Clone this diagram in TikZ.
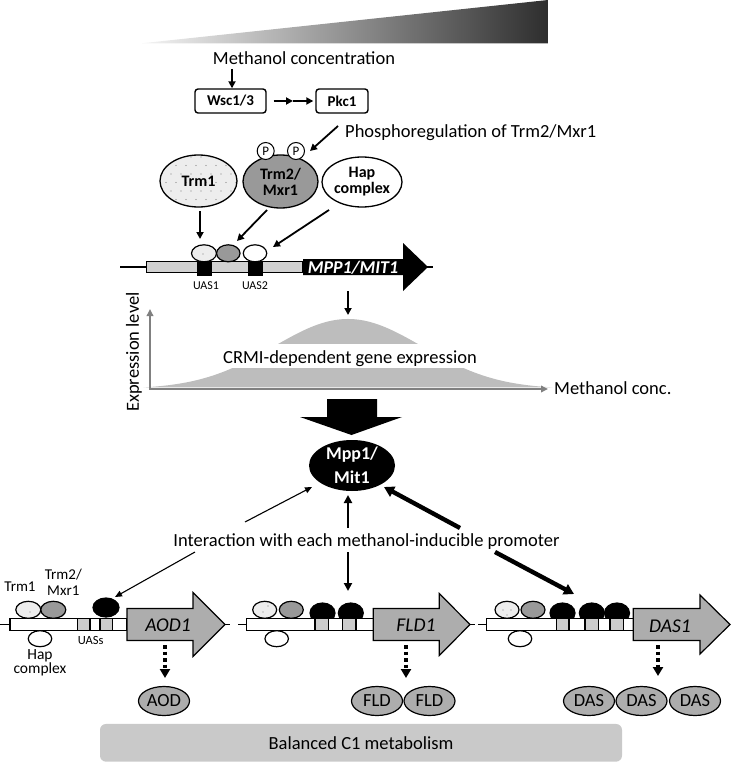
\documentclass[tikz,border=0pt]{standalone}
\usepackage{fontspec}
\setmainfont{Carlito}
\usetikzlibrary{arrows.meta,shapes.geometric}
\definecolor{lightfill}{gray}{0.93}
\definecolor{trmgray}{gray}{0.6}
\definecolor{bellgray}{gray}{0.74}
\definecolor{axisgray}{gray}{0.5}
\definecolor{promgray}{gray}{0.82}
\definecolor{protgray}{gray}{0.68}
\definecolor{basegray}{gray}{0.79}
\definecolor{uasgray}{gray}{0.8}
\tikzset{
  txt/.style={font=\fontsize{18.5}{22}\selectfont, inner sep=0pt},
  blbl/.style={font=\fontsize{16}{16}\selectfont\bfseries, align=center, inner sep=0pt},
  rlbl/.style={font=\fontsize{15}{15.5}\selectfont, align=center, inner sep=0pt},
  tinylbl/.style={font=\fontsize{12}{12}\selectfont, inner sep=0pt},
  ell/.style={ellipse, draw, line width=1.3pt, inner sep=0pt},
  blob/.style={ellipse, draw, line width=1.2pt, inner sep=0pt, minimum width=25pt, minimum height=17pt},
  prot/.style={ellipse, draw, line width=1.2pt, fill=protgray, inner sep=0pt, minimum width=51pt, minimum height=29pt, font=\fontsize{18.5}{18}\selectfont},
  boxlbl/.style={draw, rounded corners=3pt, line width=1.4pt, minimum height=24pt, inner sep=0pt, font=\fontsize{15}{15}\selectfont\bfseries},
  arrA/.style={line width=1.8pt, -{Triangle[length=7pt,width=7pt]}},
  arrThin/.style={line width=1.1pt, -{Triangle[length=7pt,width=6pt]}},
  arrMid/.style={line width=2.6pt, -{Triangle[length=8pt,width=8pt]}},
  arrThick/.style={line width=4.4pt, -{Triangle[length=10pt,width=11pt]}},
  dotarr/.style={line width=3.4pt, dash pattern=on 3.5pt off 3pt, -{Triangle[length=9pt,width=10pt]}},
  dna/.style={line width=1.2pt},
  genearrow/.style={draw, line width=1.2pt, fill=protgray},
  gname/.style={font=\fontsize{19.5}{20}\selectfont\itshape, inner sep=0pt},
  pcirc/.style={circle, draw, line width=1pt, fill=white, minimum size=17pt, inner sep=0pt, font=\fontsize{13}{13}\selectfont}
}
\begin{document}
\begin{tikzpicture}[x=1pt,y=-1pt]
\useasboundingbox (0,0) rectangle (735,762);

% ---- gradient wedge
\shade[left color=black!4, right color=black!82] (141.6,43.3) -- (548,43.3) -- (548,0) -- cycle;

% ---- signalling
\node[txt, anchor=base] (mc) at (304,65) {Methanol concentration};
\node[boxlbl, minimum width=71pt] (wsc) at (230.5,101) {Wsc1/3};
\node[boxlbl, minimum width=52pt] (pkc) at (342,101) {Pkc1};
\coordinate (mcA) at (232,69);
\draw[arrA] (mcA) -- (mcA |- wsc.north);
\coordinate (dm) at (293,101);
\draw[arrA, shorten <=7pt] (wsc.east) -- (dm);
\draw[arrA, shorten >=2pt] (dm) -- (pkc.west);
\coordinate (pa) at (338,126);
\coordinate (pb) at (310,151);
\draw[arrA] (pa) -- (pb);
\node[txt, anchor=base west] (phos) at (345,137.5) {Phosphoregulation of Trm2/Mxr1};

% ---- factors
\begin{scope}
\clip (198.5,181) ellipse [x radius=38.5pt, y radius=26pt];
\fill[lightfill] (150,150) rectangle (250,215);
\foreach \r in {0,...,6} \foreach \c in {0,...,8}
  \fill[black!50] ({161+\c*10+mod(\r,2)*5},{157+\r*8.5}) circle (0.6pt);
\end{scope}
\node[ell, minimum width=77pt, minimum height=52pt] (trm1) at (198.5,181) {};
\node[blbl] at (trm1.center) {Trm1};
\node[ell, fill=trmgray, minimum width=75pt, minimum height=53pt] (trm2) at (280.5,181.5) {};
\node[blbl] at (trm2.center) {Trm2/\\Mxr1};
\node[ell, fill=white, minimum width=80pt, minimum height=50pt] (hap) at (362,182) {};
\node[blbl] at (hap.center) {Hap\\complex};
\node[pcirc] (p1) at (265.7,151) {P};
\node[pcirc] (p2) at (296,151) {P};

\coordinate (t1a) at (200,211); \coordinate (t1b) at (200,239);
\coordinate (t2a) at (267,210); \coordinate (t2b) at (237,241);
\coordinate (ha) at (329,210);  \coordinate (hb) at (273,247);
\draw[arrA] (t1a) -- (t1b);
\draw[arrA] (t2a) -- (t2b);
\draw[arrA] (ha) -- (hb);

% ---- MPP1 promoter
\draw[dna] (120,267) -- (433,267);
\draw[dna, fill=promgray] (146.7,261.7) rectangle (303,272.3);
\fill (197,261.7) rectangle (212,276);
\fill (248,261.7) rectangle (263,276);
\node[blob, fill=lightfill] (s1) at (204,253.3) {};
\fill[black!50] (203,254) circle (0.6pt);
\node[blob, fill=trmgray, minimum width=23.5pt] (s2) at (228.3,253.3) {};
\node[blob, fill=white, minimum width=23.5pt] (s3) at (255,253.3) {};
\node[tinylbl, anchor=base] at (206,289) {UAS1};
\node[tinylbl, anchor=base] at (255,289) {UAS2};
\fill (303,259) -- (403,259) -- (403,243) -- (428,267) -- (403,291) -- (403,275) -- (303,275) -- cycle;
\node[font=\fontsize{18}{18}\selectfont\bfseries\itshape, text=white, inner sep=0pt] (mppgene) at (353,267.5) {MPP1/MIT1};
\coordinate (ga) at (348,291); \coordinate (gb) at (348,315);
\draw[arrA] (ga) -- (gb);

% ---- expression graph
\fill[bellgray] plot[domain=-2.75:2.75, samples=90, smooth] ({348+74.4*\x},{389-70*exp(-0.5*\x*\x)}) -- cycle;
\fill[white] (215,344) rectangle (485,368);
\node[txt, anchor=base] (crmi) at (350,363.5) {CRMI-dependent gene expression};
\coordinate (orig) at (150,389);
\coordinate (ytip) at (150,309);
\coordinate (xtip) at (548,389);
\draw[axisgray, line width=2.2pt, {Triangle[length=7pt,width=6.5pt]}-{Triangle[length=7pt,width=6.5pt]}] (ytip) -- (orig) -- (xtip);
\node[txt, rotate=90] (ylab) at (134,352) {Expression level};
\node[txt, anchor=base west] (xlab) at (554,394.5) {Methanol conc.};

% ---- big arrow
\fill (327,399) -- (377,399) -- (377,417) -- (402,417) -- (351.5,435) -- (300,417) -- (327,417) -- cycle;

% ---- Mpp1
\node[ellipse, fill=black, minimum width=86pt, minimum height=51pt, inner sep=0pt] (mpp) at (352,465.5) {};
\node[font=\fontsize{18}{24}\selectfont\bfseries, text=white, align=center, inner sep=0pt] at (mpp.center) {Mpp1/\\Mit1};

\node[txt, anchor=base] (inter) at (366.5,546) {Interaction with each methanol-inducible promoter};
\coordinate (la) at (245,522); \coordinate (lb) at (312,487);
\coordinate (lc) at (195,552); \coordinate (ld) at (115,597);
\draw[arrThin] (la) -- (lb);
\draw[arrThin] (lc) -- (ld);
\coordinate (ma) at (348,528); \coordinate (mb) at (348,495);
\coordinate (mc2) at (348,552); \coordinate (md) at (348,591);
\draw[arrMid] (ma) -- (mb);
\draw[arrMid] (mc2) -- (md);
\coordinate (ra) at (460,528); \coordinate (rb) at (384,487);
\coordinate (rc) at (495,552); \coordinate (rd) at (574,594);
\draw[arrThick] (ra) -- (rb);
\draw[arrThick] (rc) -- (rd);

% ---- AOD1
\draw[dna] (0,624.5) -- (10,624.5);
\draw[dna] (225,624.5) -- (230,624.5);
\draw[dna, fill=white] (10,618.3) rectangle (127,630.7);
\draw[line width=1.1pt, fill=uasgray] (77.7,618.3) rectangle (90,630.7);
\draw[line width=1.1pt] (90,618.3) rectangle (100,630.7);
\draw[line width=1.1pt, fill=uasgray] (100,618.3) rectangle (112.3,630.7);
\node[blob, fill=lightfill] (a1) at (28.3,609.8) {};
\fill[black!50] (30,612) circle (0.6pt);
\node[blob, fill=trmgray] (a2) at (53.3,609.8) {};
\node[blob, fill=white, minimum width=23.5pt, minimum height=16pt] (a3) at (40,638.7) {};
\node[blob, fill=black, minimum width=26pt, minimum height=19pt] (a4) at (106,607.5) {};
\draw[genearrow] (127,608.5) -- (193,608.5) -- (193,592.5) -- (225,624.5) -- (193,656.5) -- (193,640.5) -- (127,640.5) -- cycle;
\node[gname] (aodg) at (168,625) {AOD1};
\node[rlbl] at (20,587) {Trm1};
\node[rlbl] at (63.3,582.5) {Trm2/\\Mxr1};
\node[tinylbl, font=\fontsize{12.5}{12}\selectfont] at (90.7,640.5) {UASs};
\node[rlbl, font=\fontsize{15.5}{14.5}\selectfont] at (40,663) {Hap\\complex};
\coordinate (da1) at (165,645); \coordinate (da2) at (165,678);
\draw[dotarr] (da1) -- (da2);
\node[prot] (aod) at (164,701) {AOD};

% ---- FLD1
\draw[dna] (238,624.5) -- (246.7,624.5);
\draw[dna] (470,624.5) -- (475,624.5);
\node[blob, fill=black, minimum width=25pt, minimum height=20pt] (f4) at (322.5,613) {};
\node[blob, fill=black, minimum width=25pt, minimum height=20pt] (f5) at (350.8,613) {};
\draw[dna, fill=white] (246.7,618.3) rectangle (373.3,630.7);
\draw[line width=1.1pt, fill=uasgray] (315,618.3) rectangle (328.3,630.7);
\draw[line width=1.1pt, fill=uasgray] (342.7,618.3) rectangle (356,630.7);
\node[blob, fill=lightfill, minimum width=24pt] (f1) at (264.7,609.8) {};
\fill[black!50] (263,612) circle (0.6pt); \fill[black!50] (268,606) circle (0.6pt);
\node[blob, fill=trmgray, minimum width=24pt] (f2) at (291.3,609.8) {};
\node[blob, fill=white, minimum width=23.5pt, minimum height=16pt] (f3) at (276.7,638.7) {};
\draw[genearrow] (373.3,608.5) -- (439.3,608.5) -- (439.3,593.5) -- (470,624.5) -- (439.3,655.5) -- (439.3,640.5) -- (373.3,640.5) -- cycle;
\node[gname] (fldg) at (416,625) {FLD1};
\coordinate (df1) at (406,645); \coordinate (df2) at (406,678);
\draw[dotarr] (df1) -- (df2);
\node[prot] (fld1) at (377,701) {FLD};
\node[prot] (fld2) at (429.5,701) {FLD};

% ---- DAS1
\draw[dna] (478,624.5) -- (486.7,624.5);
\node[blob, fill=black, minimum width=25pt, minimum height=20pt] (d4) at (562.5,613) {};
\node[blob, fill=black, minimum width=25pt, minimum height=20pt] (d5) at (591.8,613) {};
\node[blob, fill=black, minimum width=25pt, minimum height=20pt] (d6) at (617,613) {};
\draw[dna, fill=white] (486.7,618.3) rectangle (633.3,630.7);
\draw[line width=1.1pt, fill=uasgray] (556.7,618.3) rectangle (569,630.7);
\draw[line width=1.1pt, fill=uasgray] (585,618.3) rectangle (598.3,630.7);
\draw[line width=1.1pt, fill=uasgray] (610,618.3) rectangle (623.3,630.7);
\node[blob, fill=lightfill, minimum width=24pt] (d1) at (507,609.8) {};
\fill[black!50] (503,610) circle (0.6pt); \fill[black!50] (511,610) circle (0.6pt); \fill[black!50] (507,615) circle (0.6pt);
\node[blob, fill=trmgray, minimum width=24pt] (d2) at (533,609.8) {};
\node[blob, fill=white, minimum width=23.5pt, minimum height=16pt] (d3) at (520,638.7) {};
\draw[genearrow] (633.3,608.5) -- (700,608.5) -- (700,595) -- (730,624.5) -- (700,654) -- (700,640.5) -- (633.3,640.5) -- cycle;
\node[gname] (dasg) at (670,626) {DAS1};
\coordinate (dd1) at (658,645); \coordinate (dd2) at (658,676);
\draw[dotarr] (dd1) -- (dd2);
\node[prot] (das1) at (589,701) {DAS};
\node[prot] (das2) at (641.5,701) {DAS};
\node[prot] (das3) at (695,701) {DAS};

% ---- base box
\node[fill=basegray, rounded corners=6pt, minimum width=522pt, minimum height=37.7pt, inner sep=0pt, txt] (bal) at (361,742.8) {Balanced C1 metabolism};
\end{tikzpicture}
\end{document}
